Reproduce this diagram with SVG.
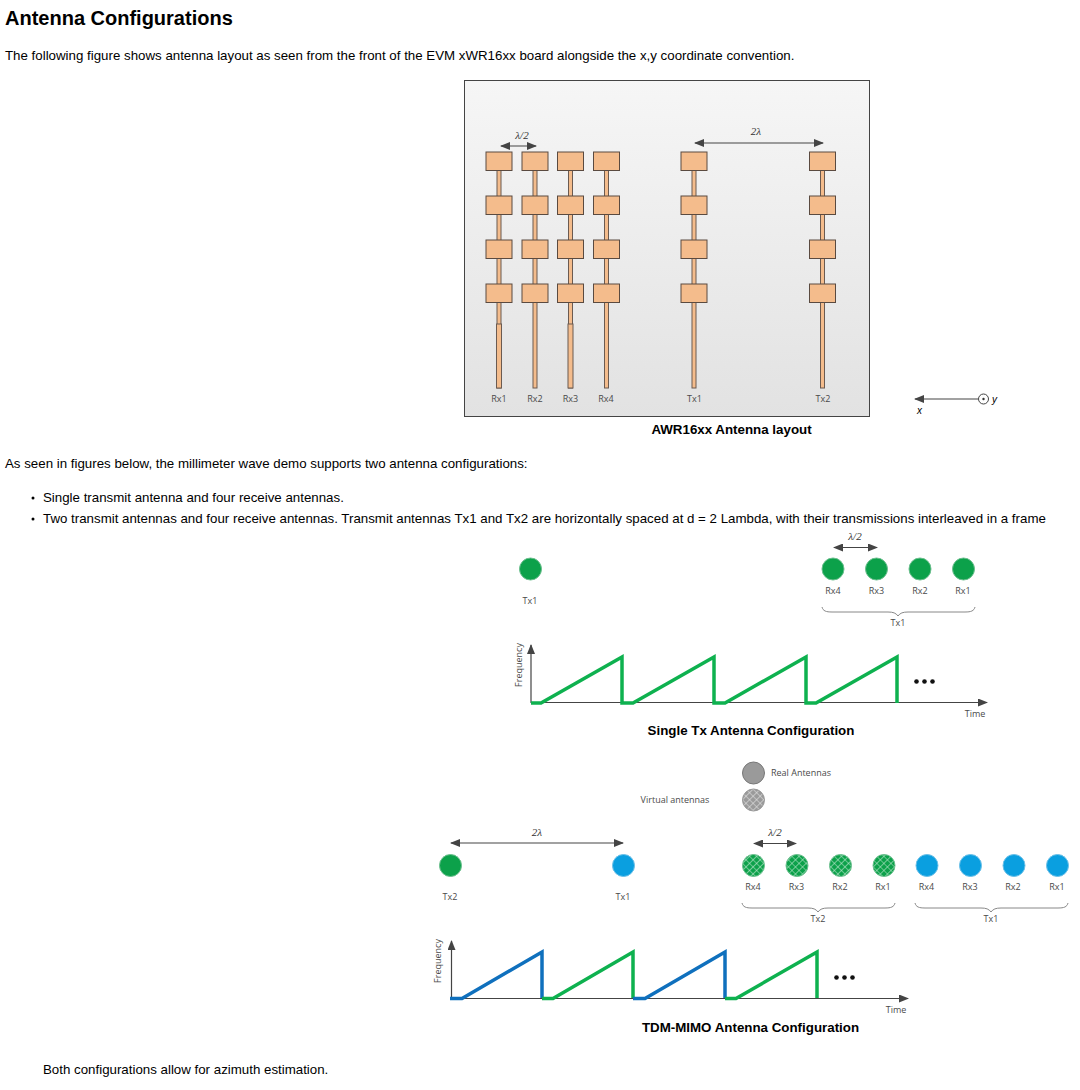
<svg xmlns="http://www.w3.org/2000/svg" xmlns:xlink="http://www.w3.org/1999/xlink" width="1080" height="1090" viewBox="0 0 1080 1090">
<style>
text{font-family:"Liberation Sans",Arial,sans-serif;fill:#000}
.h{font-size:20px;font-weight:bold}
.b{font-size:13.3px}
.c{font-size:13.33px;font-weight:bold;text-anchor:middle}
.s{font-family:"Open Sans","Liberation Sans",sans-serif;font-size:9px;fill:#4a4a4a;text-anchor:middle}
.l{font-family:"Liberation Serif",serif;font-size:11px;font-style:italic;fill:#333;text-anchor:middle}
.p{fill:#f4bc8c;stroke:#5a4a40;stroke-width:1}
.f{fill:#f4bc8c;stroke:#6b5a50;stroke-width:1}
.a{stroke:#444;stroke-width:1.2;fill:none}
.br{stroke:#888;stroke-width:1;fill:none}
.g{fill:#0ca14a;stroke:#6cbf8e;stroke-width:1}
.hg{fill:url(#hg);stroke:#6cbf8e;stroke-width:1}
.bl{fill:#0a9fe0;stroke:#6cc0e8;stroke-width:1}
.ch{fill:none;stroke-width:3.5;stroke-linejoin:miter}
.cg{stroke:#0eb14f}
.cb{stroke:#0f70bd}
</style>
<defs>
<linearGradient id="bd" x1="0" y1="0" x2="0" y2="1"><stop offset="0" stop-color="#f6f6f6"/><stop offset="1" stop-color="#e2e2e2"/></linearGradient>
<pattern id="hg" width="5" height="5" patternUnits="userSpaceOnUse" patternTransform="rotate(45)"><rect width="5" height="5" fill="#0ca14a"/><path d="M0 0H5M0 0V5" stroke="#bfe8cf" stroke-width="1.2"/></pattern>
<pattern id="hv" width="5" height="5" patternUnits="userSpaceOnUse" patternTransform="rotate(45)"><rect width="5" height="5" fill="#9a9a9a"/><path d="M0 0H5M0 0V5" stroke="#e6e6e6" stroke-width="1.2"/></pattern>
<marker id="ae" viewBox="0 0 10 8" refX="9" refY="4" markerWidth="12" markerHeight="8" markerUnits="userSpaceOnUse" orient="auto-start-reverse"><path d="M0 0L10 4L0 8Z" fill="#444"/></marker>
<g id="ant"><rect class="f" x="-2" y="18" width="4" height="218"/><rect class="p" x="-13" y="0" width="26" height="18.5"/><rect class="p" x="-13" y="44" width="26" height="18.5"/><rect class="p" x="-13" y="88" width="26" height="18.5"/><rect class="p" x="-13" y="132" width="26" height="18.5"/></g>
<g id="feedw"><rect class="f" x="-2.5" y="172" width="5" height="64"/></g>
</defs>

<rect width="1080" height="1090" fill="#fff"/>
<text class="h" x="5" y="25">Antenna Configurations</text>
<text class="b" x="5" y="60">The following figure shows antenna layout as seen from the front of the EVM xWR16xx board alongside the x,y coordinate convention.</text>

<g id="board">
<rect x="464.5" y="80.5" width="405" height="336" fill="url(#bd)" stroke="#444"/>
</g>
<g id="rx1-ant"><use href="#ant" x="499" y="152"/><use href="#feedw" x="499" y="152"/><text class="s" x="499" y="402">Rx1</text></g>
<g id="rx2-ant"><use href="#ant" x="535" y="152"/><text class="s" x="535" y="402">Rx2</text></g>
<g id="rx3-ant"><use href="#ant" x="570.5" y="152"/><use href="#feedw" x="570.5" y="152"/><text class="s" x="570.5" y="402">Rx3</text></g>
<g id="rx4-ant"><use href="#ant" x="606.5" y="152"/><text class="s" x="606" y="402">Rx4</text></g>
<g id="tx1-ant"><use href="#ant" x="694" y="152"/><text class="s" x="694.5" y="402">Tx1</text></g>
<g id="tx2-ant"><use href="#ant" x="822.5" y="152"/><text class="s" x="823" y="402">Tx2</text></g>
<text class="l" x="522" y="139">λ/2</text>
<text class="l" x="756" y="135">2λ</text>
<g id="axes-xy">
<circle cx="983.5" cy="399" r="5" fill="#fff" stroke="#444"/><circle cx="983.5" cy="399" r="1.2" fill="#333"/>
<text x="992" y="403" font-size="10" font-style="italic" fill="#333">y</text>
<text x="917" y="414" font-size="10" font-style="italic" fill="#333">x</text>
</g>
<text class="c" x="731.5" y="434">AWR16xx Antenna layout</text>

<text class="b" x="5" y="468">As seen in figures below, the millimeter wave demo supports two antenna configurations:</text>
<circle cx="33" cy="498" r="1.5" fill="#000"/>
<text class="b" x="43" y="502">Single transmit antenna and four receive antennas.</text>
<circle cx="33" cy="519" r="1.5" fill="#000"/>
<text class="b" x="43" y="523">Two transmit antennas and four receive antennas. Transmit antennas Tx1 and Tx2 are horizontally spaced at d = 2 Lambda, with their transmissions interleaved in a frame</text>

<g id="s-tx1"><circle class="g" cx="530.5" cy="569" r="11"/><text class="s" x="530" y="604">Tx1</text></g>
<g id="s-rx4"><circle class="g" cx="833" cy="569" r="11"/><text class="s" x="833" y="594">Rx4</text></g>
<g id="s-rx3"><circle class="g" cx="876.5" cy="569" r="11"/><text class="s" x="876.5" y="594">Rx3</text></g>
<g id="s-rx2"><circle class="g" cx="920" cy="569" r="11"/><text class="s" x="920" y="594">Rx2</text></g>
<g id="s-rx1"><circle class="g" cx="963.5" cy="569" r="11"/><text class="s" x="963" y="594">Rx1</text></g>
<text class="l" x="855" y="540">λ/2</text>
<text class="s" x="898" y="626">Tx1</text>
<text class="s" x="975" y="717">Time</text>
<text class="s" transform="translate(522,665) rotate(-90)">Frequency</text>
<circle cx="916.5" cy="681.5" r="2.3" fill="#111"/><circle cx="924.5" cy="681.5" r="2.3" fill="#111"/><circle cx="932.5" cy="681.5" r="2.3" fill="#111"/>
<text class="c" x="751" y="735">Single Tx Antenna Configuration</text>

<g id="legend-real"><circle cx="753.5" cy="773" r="11" fill="#9a9a9a" stroke="#777"/><text class="s" x="801" y="776">Real Antennas</text></g>
<g id="legend-virtual"><circle cx="753.5" cy="800" r="11" fill="url(#hv)" stroke="#999"/><text class="s" x="675" y="803">Virtual antennas</text></g>
<g id="t-tx2"><circle class="g" cx="450.5" cy="865.5" r="11"/><text class="s" x="450" y="900">Tx2</text></g>
<g id="t-tx1"><circle class="bl" cx="623.5" cy="865.5" r="11"/><text class="s" x="623" y="900">Tx1</text></g>
<g id="v-rx4"><circle class="hg" cx="753.5" cy="865.5" r="11"/><text class="s" x="753" y="890">Rx4</text></g>
<g id="v-rx3"><circle class="hg" cx="797" cy="865.5" r="11"/><text class="s" x="796.500" y="890">Rx3</text></g>
<g id="v-rx2"><circle class="hg" cx="840.5" cy="865.5" r="11"/><text class="s" x="840" y="890">Rx2</text></g>
<g id="v-rx1"><circle class="hg" cx="884" cy="865.5" r="11"/><text class="s" x="883" y="890">Rx1</text></g>
<g id="r-rx4"><circle class="bl" cx="927" cy="865.5" r="11"/><text class="s" x="926.500" y="890">Rx4</text></g>
<g id="r-rx3"><circle class="bl" cx="970.5" cy="865.5" r="11"/><text class="s" x="970" y="890">Rx3</text></g>
<g id="r-rx2"><circle class="bl" cx="1014" cy="865.5" r="11"/><text class="s" x="1013" y="890">Rx2</text></g>
<g id="r-rx1"><circle class="bl" cx="1057.5" cy="865.5" r="11"/><text class="s" x="1057" y="890">Rx1</text></g>
<text class="l" x="537" y="836">2λ</text>
<text class="l" x="775" y="836">λ/2</text>
<text class="s" x="818" y="922">Tx2</text>
<text class="s" x="991" y="922">Tx1</text>
<text class="s" x="896" y="1013">Time</text>
<text class="s" transform="translate(441,961) rotate(-90)">Frequency</text>
<circle cx="836.5" cy="977.5" r="2.3" fill="#111"/><circle cx="844.500" cy="977.5" r="2.3" fill="#111"/><circle cx="852.500" cy="977.5" r="2.3" fill="#111"/>
<text class="c" x="750.500" y="1032">TDM-MIMO Antenna Configuration</text>
<text class="b" x="43" y="1074">Both configurations allow for azimuth estimation.</text>

<g id="connectors">
<path class="a" d="M501 146H536" marker-start="url(#ae)" marker-end="url(#ae)"/>
<path class="a" d="M695 143H823" marker-start="url(#ae)" marker-end="url(#ae)"/>
<path class="a" d="M978 399H915" marker-end="url(#ae)"/>
<path class="a" d="M834 547.500H877" marker-start="url(#ae)" marker-end="url(#ae)"/>
<path class="br" d="M822 607C823 611 826 612 832 612H888C893 612 896 613 898 616C900 613 903 612 908 612H965C971 612 974 611 975 607"/>
<path class="a" d="M531 703V645" marker-end="url(#ae)"/>
<path class="a" d="M531 702.500H987" marker-end="url(#ae)"/>
<path class="ch cg" d="M531 703H541L622 657V703H633L714 657V703H725L806 657V703H816L897 657V703"/>
<path class="a" d="M451 843H623" marker-start="url(#ae)" marker-end="url(#ae)"/>
<path class="a" d="M754 843.500H796" marker-start="url(#ae)" marker-end="url(#ae)"/>
<path class="br" d="M742 903C743 907 746 908 752 908H808C813 908 816 909 818 912C820 909 823 908 828 908H885C891 908 894 907 895 903"/>
<path class="br" d="M915 903C916 907 919 908 925 908H981C986 908 989 909 991 912C993 909 996 908 1001 908H1058C1064 908 1067 907 1068 903"/>
<path class="a" d="M451.500 998V941" marker-end="url(#ae)"/>
<path class="a" d="M451 998.500H908" marker-end="url(#ae)"/>
<path class="ch cb" d="M450 998.500H462L542 952V998"/>
<path class="ch cg" d="M542 998.500H553L633 952V998"/>
<path class="ch cb" d="M633 998.500H645L725 952V998"/>
<path class="ch cg" d="M725 998.500H736L817 952V998"/>
</g>
</svg>
